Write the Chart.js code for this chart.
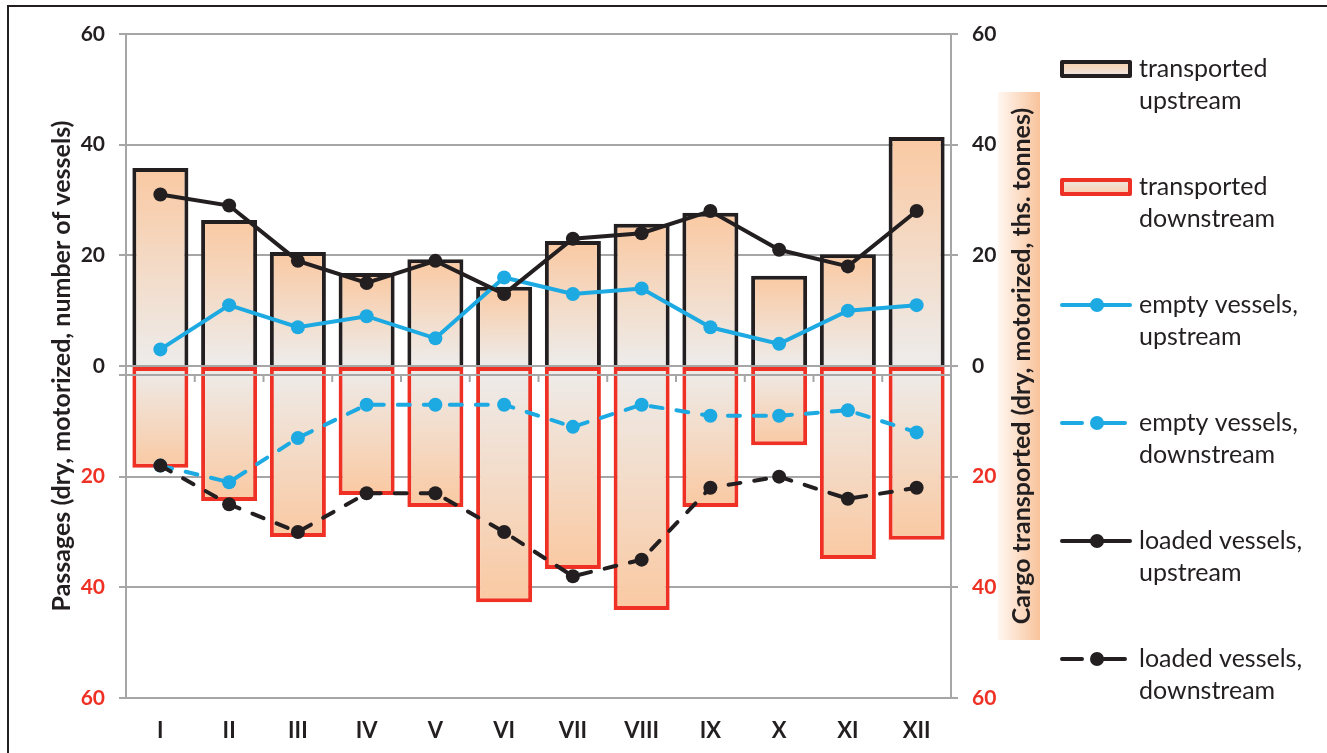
<!DOCTYPE html>
<html>
<head>
<meta charset="utf-8">
<script src="https://cdn.jsdelivr.net/npm/chart.js@4.4.0/dist/chart.umd.min.js"></script>
<style>
  html, body { margin: 0; padding: 0; background: #fff; }
  #wrap { position: relative; width: 1327px; height: 753px; overflow: hidden; }
  #frame { position: absolute; left: 7px; top: 5px; width: 1400px; height: 800px;
           border-left: 2px solid #231F20; border-top: 2px solid #231F20; }
  canvas { position: absolute; left: 0; top: 0; }
</style>
</head>
<body>
<div id="wrap">
  <canvas class="grafica" width="1327" height="753"></canvas>
  <div id="frame"></div>
</div>
<script>
const months = ['I', 'II', 'III', 'IV', 'V', 'VI', 'VII', 'VIII', 'IX', 'X', 'XI', 'XII'];
const cargoUp = [35.8, 26.4, 20.6, 16.8, 19.3, 14.3, 22.6, 25.7, 27.7, 16.3, 20.2, 41.4];
const cargoDown = [-18.4, -24.4, -30.9, -23.3, -25.5, -42.7, -36.7, -44.1, -25.5, -14.3, -34.9, -31.4];
const emptyUp = [3, 11, 7, 9, 5, 16, 13, 14, 7, 4, 10, 11];
const emptyDown = [-18, -21, -13, -7, -7, -7, -11, -7, -9, -9, -8, -12];
const loadedUp = [31, 29, 19, 15, 19, 13, 23, 24, 28, 21, 18, 28];
const loadedDown = [-18, -25, -30, -23, -23, -30, -38, -35, -22, -20, -24, -22];
const tickValues = [-60, -40, -20, 0, 20, 40, 60];
const legendLines = [
    ['transported', 'upstream'],
    ['transported', 'downstream'],
    ['empty vessels,', 'upstream'],
    ['empty vessels,', 'downstream'],
    ['loaded vessels,', 'upstream'],
    ['loaded vessels,', 'downstream']
];
const leftTitle = 'Passages (dry, motorized, number of vessels)';
const rightTitle = 'Cargo transported (dry, motorized, ths. tonnes)';

const dark = '#231F20';
const red = '#EE3124';
const blue = '#1DA9E1';
const grey = '#A6A6A6';
const peach = '#FAC9A2';
const light = '#EDECEB';
const font = 'Lato';

// gradient per bar: light at zero, peach at the bar end
function barFill(context) {
    const chart = context.chart;
    if (!chart.chartArea || context.type !== 'data') return peach;
    const sc = chart.scales.y2;
    const y0 = sc.getPixelForValue(0);
    const y1 = sc.getPixelForValue(context.raw);
    if (Math.abs(y1 - y0) < 1) return light;
    const g = chart.ctx.createLinearGradient(0, y0, 0, y1);
    g.addColorStop(0, light);
    g.addColorStop(1, peach);
    return g;
}

const tickFont = { family: font, size: 21, weight: 'bold' };
const tickColor = (c) => (c.tick && c.tick.value < 0 ? red : dark);

// right axis title with its peach box
const rightTitlePlugin = {
    id: 'rightTitle',
    beforeDraw(chart) {
        const { ctx, scales } = chart;
        const x0 = scales.y2.left + 47;
        const x1 = scales.y2.left + 89;
        const mid = scales.y2.getPixelForValue(0);
        const h = 548;
        const g = ctx.createLinearGradient(x0, 0, x1, 0);
        g.addColorStop(0, '#FFF7F1');
        g.addColorStop(1, '#F8C39B');
        ctx.save();
        ctx.fillStyle = g;
        ctx.fillRect(x0, mid - h / 2, x1 - x0, h);
        ctx.translate(x0 + 24, mid);
        ctx.rotate(-Math.PI / 2);
        ctx.font = 'bold 25px ' + font;
        ctx.textAlign = 'center';
        ctx.textBaseline = 'middle';
        ctx.fillStyle = dark;
        ctx.fillText(rightTitle, 0, 0);
        ctx.restore();
    }
};

// category axis line just under zero, with ticks between months
const zeroAxisPlugin = {
    id: 'zeroAxis',
    afterDatasetDraw(chart, args) {
        if (args.index !== 1) return;
        const { ctx, chartArea, scales } = chart;
        const y = scales.y.getPixelForValue(0) + 9;
        const step = scales.x.getPixelForValue(1) - scales.x.getPixelForValue(0);
        ctx.save();
        ctx.strokeStyle = grey;
        ctx.lineWidth = 2;
        ctx.beginPath();
        ctx.moveTo(chartArea.left - 7, y);
        ctx.lineTo(chartArea.right, y);
        for (let i = 0; i < months.length - 1; i++) {
            const x = scales.x.getPixelForValue(i) + step / 2;
            ctx.moveTo(x, y);
            ctx.lineTo(x, y + 7);
        }
        ctx.stroke();
        ctx.restore();
    }
};

// legend on the right, two text lines per entry
const sideLegendPlugin = {
    id: 'sideLegend',
    afterDraw(chart) {
        const { ctx, chartArea, scales } = chart;
        const x0 = scales.y2.left + 109;
        const w = 72;
        chart.data.datasets.forEach((ds, i) => {
            const y = chartArea.top + 35 + i * 118;
            ctx.save();
            if (ds.type === 'bar') {
                const up = i === 0;
                const g = ctx.createLinearGradient(0, y - 9, 0, y + 9);
                g.addColorStop(0, up ? peach : light);
                g.addColorStop(1, up ? light : peach);
                ctx.fillStyle = g;
                ctx.fillRect(x0 + 2, y - 7, w - 4, 14);
                ctx.strokeStyle = ds.borderColor;
                ctx.lineWidth = 4;
                ctx.lineJoin = 'round';
                ctx.strokeRect(x0 + 2, y - 7, w - 4, 14);
            } else {
                ctx.strokeStyle = ds.borderColor;
                ctx.fillStyle = ds.borderColor;
                ctx.lineWidth = 4;
                ctx.lineCap = 'round';
                ctx.beginPath();
                if (ds.borderDash) {
                    ctx.moveTo(x0 + 2, y); ctx.lineTo(x0 + 22, y);
                    ctx.moveTo(x0 + 44, y); ctx.lineTo(x0 + 65, y);
                } else {
                    ctx.moveTo(x0 + 2, y); ctx.lineTo(x0 + w - 2, y);
                }
                ctx.stroke();
                ctx.beginPath();
                ctx.arc(x0 + 37, y, 7, 0, Math.PI * 2);
                ctx.fill();
            }
            ctx.font = '25px ' + font;
            ctx.fillStyle = dark;
            ctx.textBaseline = 'middle';
            ctx.textAlign = 'left';
            legendLines[i].forEach((t, k) => ctx.fillText(t, x0 + 79, y + k * 32));
            ctx.restore();
        });
    }
};

const lineSet = (label, data, color, dashed, order) => ({
    type: 'line',
    label: label,
    data: data,
    yAxisID: 'y',
    order: order,
    borderColor: color,
    backgroundColor: color,
    borderWidth: 4,
    borderDash: dashed ? [12, 14] : undefined,
    borderCapStyle: 'round',
    pointRadius: 7,
    pointBorderWidth: 0,
    pointBackgroundColor: color,
    tension: 0,
    fill: false
});

const data = {
    labels: months,
    datasets: [
        {
            type: 'bar', label: legendLines[0].join(' '), data: cargoUp, yAxisID: 'y2', order: 5,
            grouped: false, backgroundColor: barFill, borderColor: dark, borderWidth: 4,
            borderSkipped: 'start', barPercentage: 0.815, categoryPercentage: 1
        },
        {
            type: 'bar', label: legendLines[1].join(' '), data: cargoDown, yAxisID: 'y2', order: 4,
            grouped: false, backgroundColor: barFill, borderColor: red, borderWidth: 4,
            borderSkipped: false, barPercentage: 0.815, categoryPercentage: 1
        },
        lineSet(legendLines[2].join(' '), emptyUp, blue, false, 3),
        lineSet(legendLines[3].join(' '), emptyDown, blue, true, 2),
        lineSet(legendLines[4].join(' '), loadedUp, dark, false, 1),
        lineSet(legendLines[5].join(' '), loadedDown, dark, true, 0)
    ]
};

const config = {
    type: 'bar',
    data: data,
    plugins: [rightTitlePlugin, zeroAxisPlugin, sideLegendPlugin],
    options: {
        responsive: false,
        animation: false,
        layout: { padding: { left: 10, top: 34, right: 0, bottom: 0 } },
        plugins: {
            legend: { display: false },
            tooltip: { enabled: false }
        },
        scales: {
            x: {
                grid: { display: false },
                border: { display: false },
                ticks: { color: dark, font: { family: font, size: 22, weight: 'bold' }, padding: 12 },
                afterFit: (s) => { s.height = 55; }
            },
            y: {
                position: 'left',
                min: tickValues[0],
                max: tickValues[tickValues.length - 1],
                ticks: { stepSize: 20, callback: (v) => Math.abs(v), color: tickColor, font: tickFont, padding: 14 },
                grid: { color: grey, lineWidth: 2, tickLength: 7 },
                border: { color: grey, width: 2 },
                title: {
                    display: true, text: leftTitle, color: dark,
                    font: { family: font, size: 25, weight: 'bold' }, padding: { top: 37, bottom: 0 }
                },
                afterFit: (s) => { s.width = 116; }
            },
            y2: {
                position: 'right',
                min: tickValues[0],
                max: tickValues[tickValues.length - 1],
                ticks: { stepSize: 20, callback: (v) => Math.abs(v), color: tickColor, font: tickFont, padding: 14 },
                grid: { drawOnChartArea: false, color: grey, lineWidth: 2, tickLength: 7 },
                border: { color: grey, width: 2 },
                afterFit: (s) => { s.width = 376; }
            }
        }
    }
};

const ctx = document.querySelector('.grafica');
const grafica = new Chart(ctx, config);
</script>
</body>
</html>
